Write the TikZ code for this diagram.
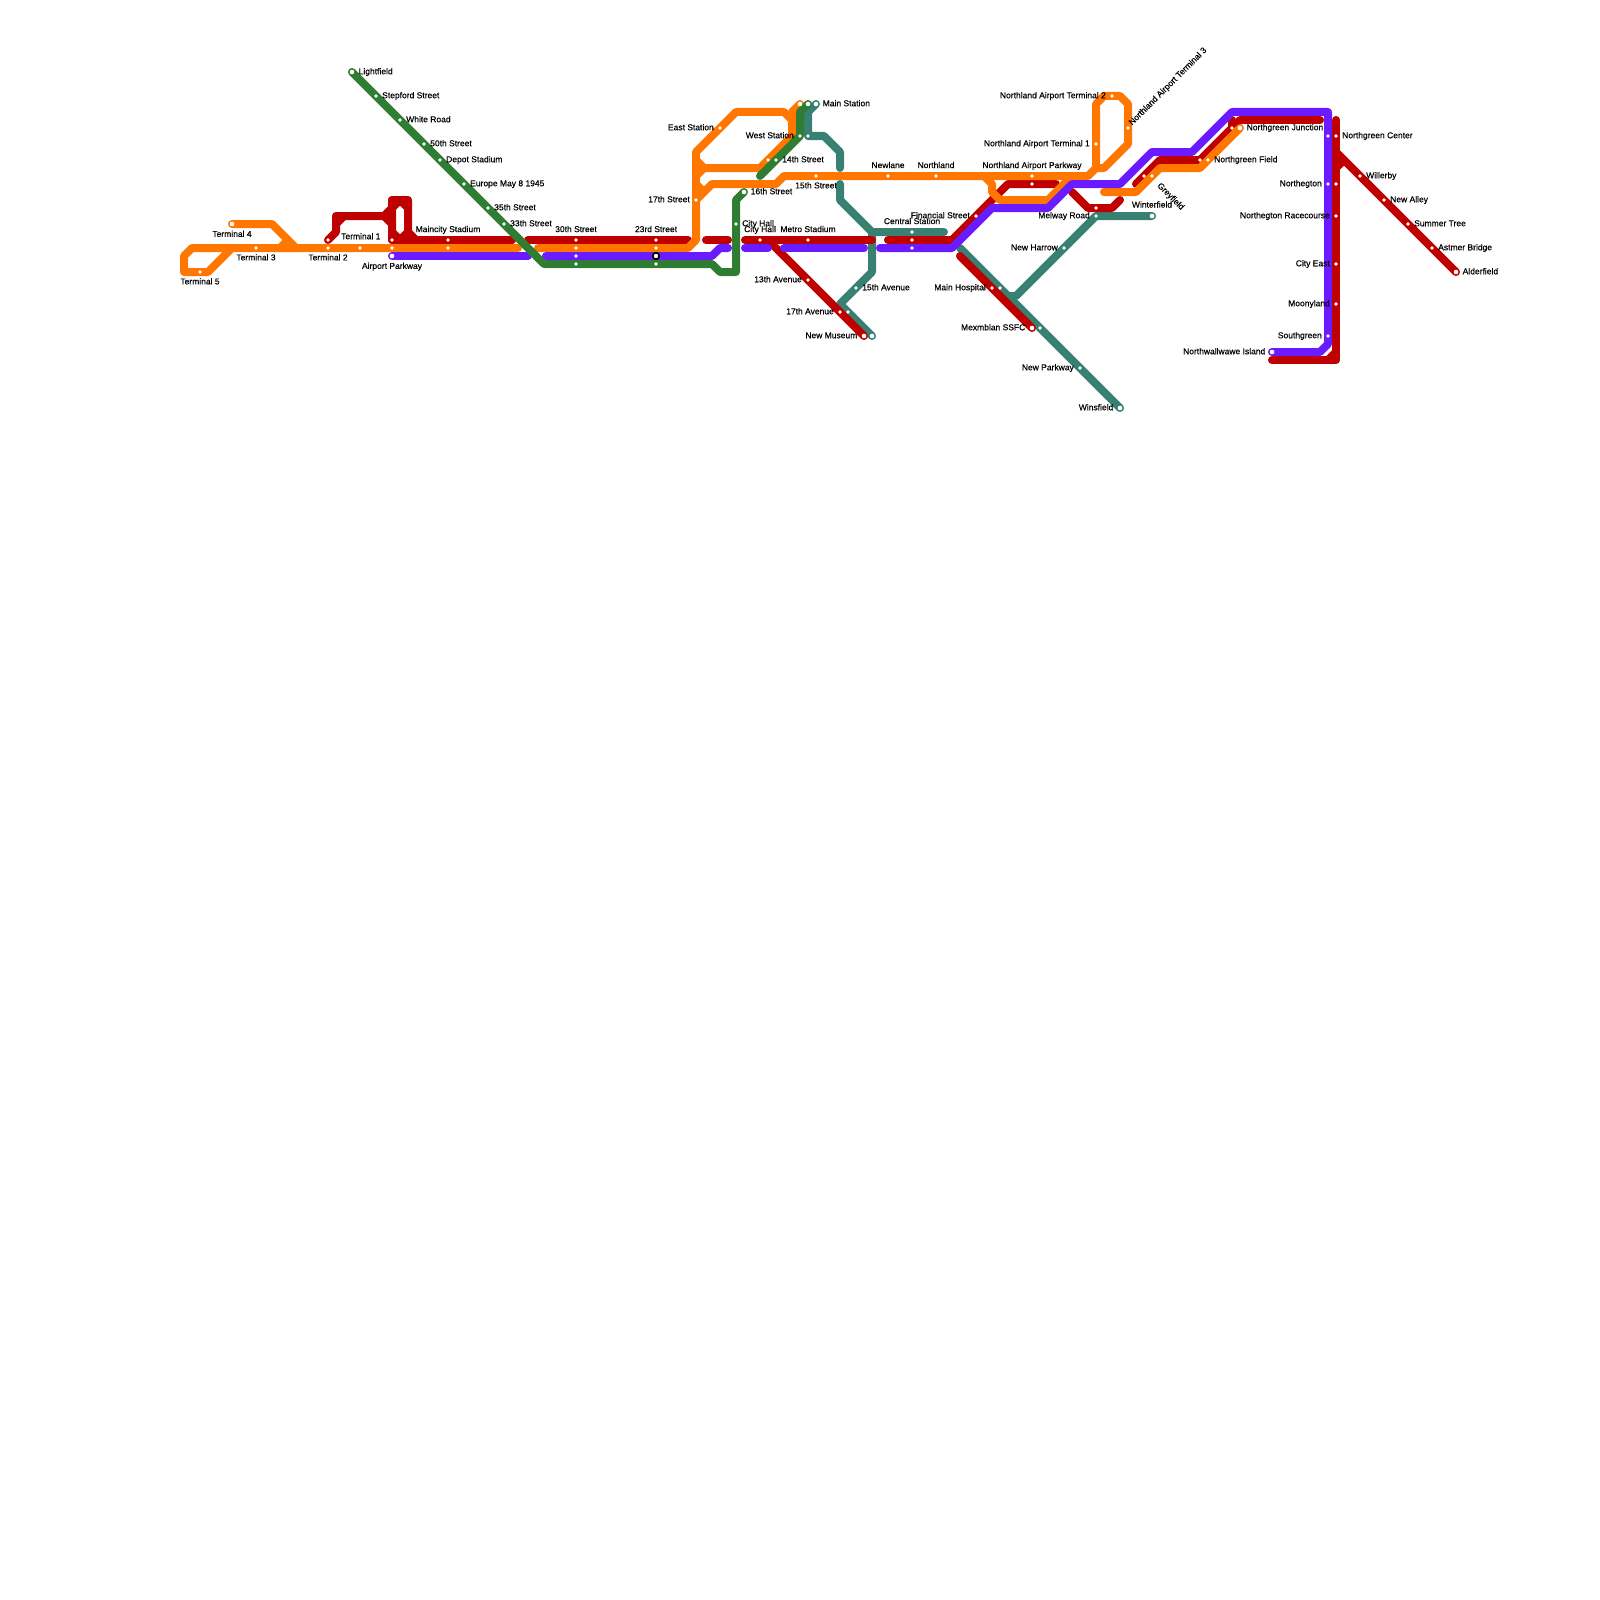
\documentclass[tikz,border=0pt]{standalone}
\usepackage{fontspec}
\setmainfont{Liberation Sans}
\newfontfamily\labfont{Liberation Sans}[FakeBold=0.35]
\usepackage{xcolor}
\usetikzlibrary{positioning,backgrounds}
\definecolor{lineR}{HTML}{BF0000}
\definecolor{lineO}{HTML}{FF7700}
\definecolor{lineP}{HTML}{6A1BFF}
\definecolor{lineG}{HTML}{2E7D32}
\definecolor{lineT}{HTML}{388072}
\begin{document}
\begin{tikzpicture}[x=1pt,y=-1pt,node distance=4pt,
  st/.style={circle,fill=white,inner sep=0pt,minimum size=3.6pt},
  te/.style={circle,fill=white,inner sep=0pt,minimum size=4.6pt},
  hub/.style={circle,fill=white,draw=black,line width=1.8pt,inner sep=0pt,minimum size=6.6pt},
  lab/.style={inner sep=0pt,text=black,font=\labfont\fontsize{8.5}{9}\selectfont,text height=6.2pt,text depth=1.7pt},
  ln/.style={line width=8pt,line cap=round,line join=round},
  lnR/.style={ln,draw=lineR},lnO/.style={ln,draw=lineO},lnP/.style={ln,draw=lineP},
  lnG/.style={ln,draw=lineG},lnT/.style={ln,draw=lineT}]
  \useasboundingbox (0,0) rectangle (1600,1600);
  % airport end
  \node[te](ter4) at (232,224){}; \node[lab,below=of ter4](ter4L){Terminal 4};
  \node[st](ter3) at (256,248){}; \node[lab,below=of ter3](ter3L){Terminal 3};
  \node[st](ter5) at (200,272){}; \node[lab,below=of ter5](ter5L){Terminal 5};
  \node[st](ter2O) at (328,248){}; \node[lab,below=of ter2O](ter2L){Terminal 2};
  \node[st](ter1R) at (328,240){}; \node[st](ter1O) at (360,248){};
  \node[lab,right=11pt of ter1R,yshift=3pt](ter1L){Terminal 1};
  \node[st](airR) at (392,240){}; \node[st](airO) at (392,248){};
  \node[te](airP) at (392,256){}; \node[lab,below=of airP](airL){Airport Parkway};
  \node[st](mcyR) at (448,240){}; \node[st](mcyO) at (448,248){};
  \node[lab,above=of mcyR](mcyL){Maincity Stadium};
  % green line down from the north
  \node[te](lig) at (352,72){}; \node[lab,right=of lig](ligL){Lightfield};
  \node[st](ste) at (376,96){}; \node[lab,right=of ste](steL){Stepford Street};
  \node[st](whi) at (400,120){}; \node[lab,right=of whi](whiL){White Road};
  \node[st](fif) at (424,144){}; \node[lab,right=of fif](fifL){50th Street};
  \node[st](dep) at (440,160){}; \node[lab,right=of dep](depL){Depot Stadium};
  \node[st](eur) at (464,184){}; \node[lab,right=of eur](eurL){Europe May 8 1945};
  \node[st](thf) at (488,208){}; \node[lab,right=of thf](thfL){35th Street};
  \node[st](tht) at (504,224){}; \node[lab,right=of tht](thtL){33th Street};
  % central stretch
  \node[st](thiR) at (576,240){}; \node[st](thiO) at (576,248){};
  \node[st](thiP) at (576,256){}; \node[st](thiG) at (576,264){};
  \node[lab,above=of thiR](thiL){30th Street};
  \node[st](twtR) at (656,240){}; \node[st](twtO) at (656,248){};
  \node[hub](twtP) at (656,256){}; \node[st](twtG) at (656,264){};
  \node[lab,above=of twtR](twtL){23rd Street};
  \node[st](sev) at (696,200){}; \node[lab,left=of sev](sevL){17th Street};
  \node[st](eas) at (720,128){}; \node[lab,left=of eas](easL){East Station};
  \node[st](forO) at (768,160){}; \node[st](forG) at (776,160){};
  \node[lab,right=of forG](forL){14th Street};
  \node[st](wesG) at (800,136){}; \node[st](wesT) at (808,136){};
  \node[lab,left=of wesG](wesL){West Station};
  \node[te](mainO) at (800,104){}; \node[te](mainG) at (808,104){}; \node[te](mainT) at (816,104){};
  \node[lab,right=of mainT](mainL){Main Station};
  \node[te](six) at (744,192){}; \node[lab,right=of six](sixL){16th Street};
  \node[st](chG) at (736,224){}; \node[lab,right=of chG](chGL){City Hall};
  \node[st](chR) at (760,240){}; \node[lab,above=of chR](chRL){City Hall};
  \node[st](met) at (808,240){}; \node[lab,above=of met](metL){Metro Stadium};
  \node[st](fiv) at (816,176){}; \node[lab,below=of fiv](fivL){15th Street};
  \node[st](nla) at (888,176){}; \node[lab,above=of nla](nlaL){Newlane};
  \node[st](nor) at (936,176){}; \node[lab,above=of nor](norL){Northland};
  \node[st](cenT) at (912,232){}; \node[st](cenR) at (912,240){}; \node[st](cenP) at (912,248){};
  \node[lab,above=of cenT](cenL){Central Station};
  % south branches
  \node[st](thi) at (808,280){}; \node[lab,left=of thi](thiaL){13th Avenue};
  \node[st](fifa) at (856,288){}; \node[lab,right=of fifa](fifaL){15th Avenue};
  \node[st](svaR) at (840,312){}; \node[st](svaT) at (848,312){};
  \node[lab,left=of svaR](svaL){17th Avenue};
  \node[te](musR) at (864,336){}; \node[te](musT) at (872,336){};
  \node[lab,left=of musR](musL){New Museum};
  \node[st](fin) at (976,216){}; \node[lab,left=of fin](finL){Financial Street};
  \node[st](hosR) at (992,288){}; \node[st](hosT) at (1000,288){};
  \node[lab,left=of hosR](hosL){Main Hospital};
  \node[te](mexR) at (1032,328){}; \node[st](mexT) at (1040,328){};
  \node[lab,left=of mexR](mexL){Mexmblan SSFC};
  \node[st](npk) at (1080,368){}; \node[lab,left=of npk](npkL){New Parkway};
  \node[te](win) at (1120,408){}; \node[lab,left=of win](winL){Winsfield};
  \node[st](har) at (1064,248){}; \node[lab,left=of har](harL){New Harrow};
  \node[st](melR) at (1096,208){}; \node[st](melT) at (1096,216){};
  \node[lab,left=of melT](melL){Melway Road};
  \node[te](wtr) at (1152,216){}; \node[lab,above=of wtr](wtrL){Winterfield};
  % northland airport
  \node[st](napO) at (1032,176){}; \node[st](napR) at (1032,184){};
  \node[lab,above=of napO](napL){Northland Airport Parkway};
  \node[st](nat1) at (1096,144){}; \node[lab,left=of nat1](nat1L){Northland Airport Terminal 1};
  \node[st](nat2) at (1112,96){}; \node[lab,left=of nat2](nat2L){Northland Airport Terminal 2};
  \node[st](nat3) at (1128,128){}; \node[lab,rotate=45,anchor=west,xshift=4.5pt,yshift=1pt] at (nat3)(nat3L){Northland Airport Terminal 3};
  \node[st](greR) at (1144,176){}; \node[st](greO) at (1152,176){};
  \node[lab,rotate=-45,anchor=west,xshift=10.5pt,yshift=-1.5pt] at (greO)(greL){Greyfield};
  \node[st](nfiR) at (1200,160){}; \node[st](nfiO) at (1208,160){};
  \node[lab,right=of nfiO](nfiL){Northgreen Field};
  \node[st](njuR) at (1232,128){}; \node[te](njuO) at (1240,128){};
  \node[lab,right=of njuO](njuL){Northgreen Junction};
  % north end
  \node[st](nceP) at (1328,136){}; \node[st](nceR) at (1336,136){};
  \node[lab,right=of nceR](nceL){Northgreen Center};
  \node[st](ntgP) at (1328,184){}; \node[st](ntgR) at (1336,184){};
  \node[lab,left=of ntgP](ntgL){Northegton};
  \node[st](rac) at (1336,216){}; \node[lab,left=of rac](racL){Northegton Racecourse};
  \node[st](cea) at (1336,264){}; \node[lab,left=of cea](ceaL){City East};
  \node[st](moo) at (1336,304){}; \node[lab,left=of moo](mooL){Moonyland};
  \node[st](sgr) at (1328,336){}; \node[lab,left=of sgr](sgrL){Southgreen};
  \node[te](nwi) at (1272,352){}; \node[lab,left=of nwi](nwiL){Northwallwawe Island};
  \node[st](wil) at (1360,176){}; \node[lab,right=of wil](wilL){Willerby};
  \node[st](nal) at (1384,200){}; \node[lab,right=of nal](nalL){New Alley};
  \node[st](sum) at (1408,224){}; \node[lab,right=of sum](sumL){Summer Tree};
  \node[st](ast) at (1432,248){}; \node[lab,right=of ast](astL){Astmer Bridge};
  \node[te](ald) at (1456,272){}; \node[lab,right=of ald](aldL){Alderfield};
  \begin{scope}[on background layer]
  % teal
  \draw[lnT](mainT.center)--(808,112)--(wesT.center)--(824,136)--(840,152)--(840,168);
  \draw[lnT](840,184)--(840,200)--(872,232)--(cenT.center)--(944,232);
  \draw[lnT](872,232)--(872,272)--(fifa.center)--(840,304)--(svaT.center)--(musT.center);
  \draw[lnT](960,248)--(hosT.center)--(mexT.center)--(npk.center)--(win.center);
  \draw[lnT](1008,296)--(1016,296)--(har.center)--(melT.center)--(wtr.center);
  % red
  \draw[lnR](ter1R.center)--(336,232)--(336,216)--(384,216)--(392,208)--(392,200)--(408,200)--(408,232)--(416,240)--(512,240);
  \draw[lnR](336,224)--(344,216);
  \draw[lnR](384,216)--(392,224)--(airR.center)--(392,200);
  \draw[lnR](392,208)--(400,200)--(408,208);\draw[lnR](392,232)--(400,240)--(408,232);
  \draw[lnR](airR.center)--(mcyR.center)--(512,240);
  \draw[lnR](528,240)--(thiR.center)--(twtR.center)--(688,240);
  \draw[lnR](706,240)--(728,240);
  \draw[lnR](745,240)--(chR.center)--(met.center)--(872,240);
  \draw[lnR](768,240)--(776,248)--(thi.center)--(svaR.center)--(musR.center);
  \draw[lnR](888,240)--(cenR.center)--(952,240)--(fin.center)--(1008,184)--(napR.center)--(1056,184);
  \draw[lnR](960,256)--(hosR.center)--(mexR.center);
  \draw[lnR](1072,192)--(1088,208)--(melR.center)--(1112,208)--(1120,200);
  \draw[lnR](1136,184)--(greR.center)--(1160,160)--(nfiR.center)--(njuR.center)--(1240,120)--(1320,120);
  \draw[lnR](1232,120)--(njuR.center);
  \draw[lnR](1336,120)--(nceR.center)--(ntgR.center)--(rac.center)--(cea.center)--(moo.center)--(1336,360)--(1272,360);
  \draw[lnR](1328,360)--(1336,352);
  \draw[lnR](1336,152)--(wil.center)--(nal.center)--(sum.center)--(ast.center)--(ald.center);
  \draw[lnR](1336,168)--(1344,160);
  % orange
  \draw[lnO](ter5.center)--(184,272)--(184,256)--(192,248)--(ter3.center)--(ter2O.center)--(ter1O.center)--(airO.center)--(mcyO.center)--(518,248);
  \draw[lnO](ter5.center)--(208,272)--(232,248);
  \draw[lnO](ter4.center)--(272,224)--(296,248);\draw[lnO](280,248)--(288,240);
  \draw[lnO](538,248)--(thiO.center)--(twtO.center)--(688,248)--(696,240)--(sev.center)--(696,152)--(eas.center)--(736,112)--(784,112)--(792,120);
  \draw[lnO](mainO.center)--(792,112)--(792,136)--(forO.center)--(760,168)--(704,168)--(696,160);
  \draw[lnO](sev.center)--(712,184)--(776,184)--(784,176)--(fiv.center)--(nla.center)--(nor.center)--(napO.center)--(1088,176)--(1096,168)--(nat1.center)--(1096,104)--(1104,96)--(nat2.center)--(1120,96)--(1128,104)--(nat3.center)--(1128,144)--(1104,168)--(1096,168);
  \draw[lnO](704,168)--(696,176);\draw[lnO](696,184)--(704,192);
  \draw[lnO](984,176)--(992,184)--(992,192)--(1000,200)--(1048,200)--(1072,176);
  \draw[lnO](1104,192)--(1136,192)--(greO.center)--(1160,168)--(1200,168)--(nfiO.center)--(njuO.center);
  % purple
  \draw[lnP](airP.center)--(528,256);
  \draw[lnP](546,256)--(thiP.center)--(twtP.center)--(712,256)--(720,248)--(728,248);
  \draw[lnP](745,248)--(768,248);\draw[lnP](784,248)--(864,248);
  \draw[lnP](880,248)--(cenP.center)--(952,248)--(992,208)--(1048,208)--(1072,184)--(1120,184)--(1152,152)--(1192,152)--(1232,112)--(1328,112)--(nceP.center)--(ntgP.center)--(sgr.center)--(1328,344)--(1320,352)--(nwi.center);
  % green
  \draw[lnG](lig.center)--(ste.center)--(whi.center)--(fif.center)--(dep.center)--(eur.center)--(thf.center)--(tht.center)--(544,264)--(thiG.center)--(twtG.center)--(712,264)--(720,272)--(736,272)--(chG.center)--(736,200)--(six.center);
  \draw[lnG](760,176)--(forG.center)--(wesG.center)--(800,112)--(mainG.center);
  \end{scope}
\end{tikzpicture}
\end{document}
